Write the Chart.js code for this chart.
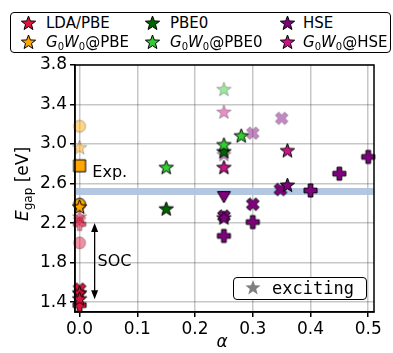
<!DOCTYPE html>
<html>
<head>
<meta charset="utf-8">
<script src="https://cdn.jsdelivr.net/npm/chart.js@4/dist/chart.umd.min.js"></script>
<style>
  body { margin: 0; background: #fff; }
  #wrap { position: relative; width: 393px; height: 353px; font-family: "DejaVu Sans", sans-serif; color: #000; }
  #chart { position: absolute; left: 0; top: 0; }
  .box { position: absolute; border: 1.5px solid #000; border-radius: 4px; background: #fff; box-sizing: border-box; }
  .lbl { position: absolute; font-size: 15px; line-height: 18px; white-space: nowrap; }
  .lbl sub { font-size: 10px; vertical-align: -3px; line-height: 0; }
  .ico { position: absolute; }
  #ytitle { position: absolute; left: 22px; top: 184px; transform: translate(-50%, -50%) rotate(-90deg); font-size: 17px; white-space: nowrap; }
  #ytitle sub { font-size: 12px; vertical-align: -4px; line-height: 0; }
  #xtitle { position: absolute; left: 222px; top: 341px; transform: translate(-50%, -50%); font-size: 17px; font-style: italic; }
  #exc { font-family: "DejaVu Sans Mono", monospace; font-size: 17px; }
</style>
</head>
<body>
<div id="wrap">
  <canvas id="chart" width="393" height="353"></canvas>
  <div class="box" style="left:10px;top:12px;width:381px;height:41px;"></div>
  <div class="box" style="left:233px;top:277px;width:134px;height:23px;"></div>
  <div id="ytitle"><i>E</i><sub>gap</sub> [eV]</div>
  <div id="xtitle">α</div>
</div>
<script>
// axis ranges and ticks
const xTicks = [0.0, 0.1, 0.2, 0.3, 0.4, 0.5];
const yTicks = [1.4, 1.8, 2.2, 2.6, 3.0, 3.4, 3.8];
const xMin = -0.008, xMax = 0.51;
const yMin = 1.3, yMax = 3.8;

// [alpha, Egap] pairs
// LDA/PBE
const ldaStar = [[0, 1.49], [0, 1.43]];
const ldaCross = [[0, 1.53]];
const ldaPlus = [[0, 1.37]];
const ldaStarAlt = [[0, 2.26]];
const ldaCrossAlt = [[0, 2.22]];
const ldaPlusAlt = [[0, 2.19]];
const ldaCircleAlt = [[0, 2.00]];
// G0W0@PBE
const gwPbeCircle = [[0, 2.39]];
const gwPbeStar = [[0, 2.36]];
const gwPbeSquare = [[0, 2.78]];
const gwPbeCircleAlt = [[0, 3.18]];
const gwPbeStarAlt = [[0, 2.96]];
// PBE0
const pbe0Star = [[0.15, 2.34], [0.25, 2.92]];
// G0W0@PBE0
const gwPbe0Star = [[0.15, 2.76], [0.25, 2.99], [0.28, 3.08]];
const gwPbe0StarAlt = [[0.25, 3.55]];
// HSE
const hseStar = [[0.25, 2.25], [0.36, 2.58]];
const hseCross = [[0.25, 2.27], [0.30, 2.39], [0.348, 2.54]];
const hsePlus = [[0.25, 2.07], [0.30, 2.21], [0.40, 2.53], [0.45, 2.70], [0.50, 2.87]];
const hseTriangle = [[0.25, 2.47]];
const hseCrossAlt = [[0.30, 3.11], [0.35, 3.26]];
const hseStarAlt = [[0.25, 2.89]];
// G0W0@HSE
const gwHseStar = [[0.25, 2.76], [0.36, 2.93]];
const gwHseStarAlt = [[0.25, 3.32]];

// experiment and SOC annotation
const expGap = 2.52;
const expLabel = [0.022, 2.71];
const socAlpha = 0.026;
const socTop = 2.20, socBottom = 1.43;
const socLabel = [0.031, 1.81];

const COL = {
  lda: "220,20,60",
  gwPbe: "255,165,0",
  pbe0: "0,100,0",
  gwPbe0: "50,205,50",
  hse: "128,0,128",
  gwHse: "199,21,133",
  grey: "128,128,128"
};

function marker(shape, rgb, faded, r, noEdge) {
  const pad = 2;
  const s = Math.ceil(2 * r + 2 * pad);
  const c = document.createElement("canvas");
  c.width = c.height = s;
  const g = c.getContext("2d");
  g.translate(s / 2, s / 2);
  g.beginPath();
  if (shape === "star") {
    for (let i = 0; i < 10; i++) {
      const a = -Math.PI / 2 + i * Math.PI / 5;
      const rr = i % 2 ? r * 0.42 : r;
      g.lineTo(rr * Math.cos(a), rr * Math.sin(a));
    }
  } else if (shape === "circle") {
    g.arc(0, 0, r, 0, Math.PI * 2);
  } else if (shape === "square") {
    g.rect(-r, -r, 2 * r, 2 * r);
  } else if (shape === "triangle") {
    g.moveTo(-r, -r * 0.75);
    g.lineTo(r, -r * 0.75);
    g.lineTo(0, r);
  } else {
    const w = r * 0.36;
    const pts = [[-w, -r], [w, -r], [w, -w], [r, -w], [r, w], [w, w], [w, r], [-w, r], [-w, w], [-r, w], [-r, -w], [-w, -w]];
    const rot = shape === "cross" ? Math.PI / 4 : 0;
    const k = shape === "cross" ? 1.1 : 1;
    pts.forEach(p => {
      const x = (p[0] * Math.cos(rot) - p[1] * Math.sin(rot)) * k;
      const y = (p[0] * Math.sin(rot) + p[1] * Math.cos(rot)) * k;
      g.lineTo(x, y);
    });
  }
  g.closePath();
  g.fillStyle = faded ? "rgba(" + rgb + ",0.47)" : "rgb(" + rgb + ")";
  g.fill();
  if (!noEdge) {
    g.lineWidth = 1;
    g.strokeStyle = faded ? "rgba(0,0,0,0.28)" : "#000";
    g.stroke();
  }
  return c;
}

const SIZE = { star: 7.5, circle: 6, square: 6, triangle: 6.5, plus: 6.5, cross: 6 };

function ds(points, shape, colKey, faded, order) {
  return {
    type: "scatter",
    data: points.map(p => ({ x: p[0], y: p[1] })),
    pointStyle: marker(shape, COL[colKey], faded, SIZE[shape]),
    clip: false,
    order: order
  };
}

const datasets = [
  {
    type: "line",
    data: [{ x: xMin, y: expGap }, { x: xMax, y: expGap }],
    borderColor: "rgba(176,196,222,0.95)",
    borderWidth: 7,
    pointRadius: 0,
    order: 100
  },
  ds(ldaCircleAlt, "circle", "lda", true, 60),
  ds(ldaPlusAlt, "plus", "lda", true, 59),
  ds(ldaCrossAlt, "cross", "lda", true, 58),
  ds(ldaStarAlt, "star", "lda", true, 57),
  ds(gwPbeCircleAlt, "circle", "gwPbe", true, 56),
  ds(gwPbeStarAlt, "star", "gwPbe", true, 55),
  ds(gwPbe0StarAlt, "star", "gwPbe0", true, 54),
  ds(hseCrossAlt, "cross", "hse", true, 53),
  ds(hseStarAlt, "star", "hse", true, 52),
  ds(gwHseStarAlt, "star", "gwHse", true, 51),
  ds(ldaPlus, "plus", "lda", false, 30),
  ds(ldaCross, "cross", "lda", false, 29),
  ds(ldaStar, "star", "lda", false, 28),
  ds(gwPbeSquare, "square", "gwPbe", false, 27),
  ds(gwPbeCircle, "circle", "gwPbe", false, 26),
  ds(gwPbeStar, "star", "gwPbe", false, 25),
  ds(hsePlus, "plus", "hse", false, 24),
  ds(hseTriangle, "triangle", "hse", false, 23),
  ds(hseCross, "cross", "hse", false, 22),
  ds(hseStar, "star", "hse", false, 21),
  ds(pbe0Star, "star", "pbe0", false, 20),
  ds(gwPbe0Star, "star", "gwPbe0", false, 19),
  ds(gwHseStar, "star", "gwHse", false, 18)
];

const annotations = {
  id: "annotations",
  afterDatasetsDraw(chart) {
    const ctx = chart.ctx;
    const xs = chart.scales.x, ys = chart.scales.y;
    ctx.save();
    // SOC double arrow
    const ax = xs.getPixelForValue(socAlpha);
    const y1 = ys.getPixelForValue(socTop);
    const y2 = ys.getPixelForValue(socBottom);
    ctx.strokeStyle = "#000";
    ctx.fillStyle = "#000";
    ctx.lineWidth = 1.3;
    ctx.beginPath();
    ctx.moveTo(ax, y1 + 6);
    ctx.lineTo(ax, y2 - 6);
    ctx.stroke();
    ctx.beginPath();
    ctx.moveTo(ax, y1); ctx.lineTo(ax - 3.5, y1 + 9); ctx.lineTo(ax + 3.5, y1 + 9); ctx.closePath();
    ctx.fill();
    ctx.beginPath();
    ctx.moveTo(ax, y2); ctx.lineTo(ax - 3.5, y2 - 9); ctx.lineTo(ax + 3.5, y2 - 9); ctx.closePath();
    ctx.fill();
    // labels
    ctx.font = "16px 'DejaVu Sans'";
    ctx.textBaseline = "middle";
    ctx.textAlign = "left";
    ctx.fillText("SOC", xs.getPixelForValue(socLabel[0]), ys.getPixelForValue(socLabel[1]));
    ctx.fillText("Exp.", xs.getPixelForValue(expLabel[0]), ys.getPixelForValue(expLabel[1]));
    // frame
    const a = chart.chartArea;
    ctx.lineWidth = 1.5;
    ctx.strokeRect(a.left, a.top, a.right - a.left, a.bottom - a.top);
    ctx.restore();
  }
};

const tickFont = { family: "DejaVu Sans", size: 17 };
const gridOpts = { color: "rgba(0,0,0,0.22)", lineWidth: 1.5, tickColor: "#000", tickLength: 5, tickWidth: 1.5 };

new Chart(document.getElementById("chart"), {
  data: { datasets: datasets },
  options: {
    responsive: false,
    animation: false,
    events: [],
    layout: { padding: { left: 0, right: 19, top: 65, bottom: 0 } },
    plugins: { legend: { display: false }, tooltip: { enabled: false } },
    scales: {
      x: {
        type: "linear",
        min: xMin,
        max: xMax,
        afterBuildTicks: s => { s.ticks = xTicks.map(v => ({ value: v })); },
        afterFit: s => { s.height = 41; },
        ticks: { font: tickFont, color: "#000", padding: 2, maxRotation: 0, callback: v => v.toFixed(1) },
        grid: gridOpts,
        border: { color: "#000", width: 1.5 }
      },
      y: {
        type: "linear",
        min: yMin,
        max: yMax,
        afterBuildTicks: s => { s.ticks = yTicks.map(v => ({ value: v })); },
        afterFit: s => { s.width = 75; },
        ticks: { font: tickFont, color: "#000", padding: 3, callback: v => v.toFixed(1) },
        grid: gridOpts,
        border: { color: "#000", width: 1.5 }
      }
    }
  },
  plugins: [annotations]
});

// legend
const legendItems = [
  ["lda", "LDA/PBE", 28, 23, 46],
  ["pbe0", "PBE0", 152, 23, 170],
  ["hse", "HSE", 287, 23, 303],
  ["gwPbe", "<i>G</i><sub>0</sub><i>W</i><sub>0</sub>@PBE", 28, 42, 46],
  ["gwPbe0", "<i>G</i><sub>0</sub><i>W</i><sub>0</sub>@PBE0", 152, 42, 170],
  ["gwHse", "<i>G</i><sub>0</sub><i>W</i><sub>0</sub>@HSE", 287, 42, 303]
];
const wrap = document.getElementById("wrap");
function place(c, cx, cy) {
  c.className = "ico";
  c.style.left = (cx - c.width / 2) + "px";
  c.style.top = (cy - c.height / 2) + "px";
  wrap.appendChild(c);
}
legendItems.forEach(it => {
  place(marker("star", COL[it[0]], false, 7.5), it[2], it[3]);
  const d = document.createElement("div");
  d.className = "lbl";
  d.innerHTML = it[1];
  d.style.left = it[4] + "px";
  d.style.top = (it[3] - 9) + "px";
  wrap.appendChild(d);
});
place(marker("star", COL.grey, false, 8, true), 253, 288);
const ex = document.createElement("div");
ex.className = "lbl";
ex.id = "exc";
ex.textContent = "exciting";
ex.style.left = "272px";
ex.style.top = "278px";
ex.style.lineHeight = "20px";
wrap.appendChild(ex);
</script>
</body>
</html>
